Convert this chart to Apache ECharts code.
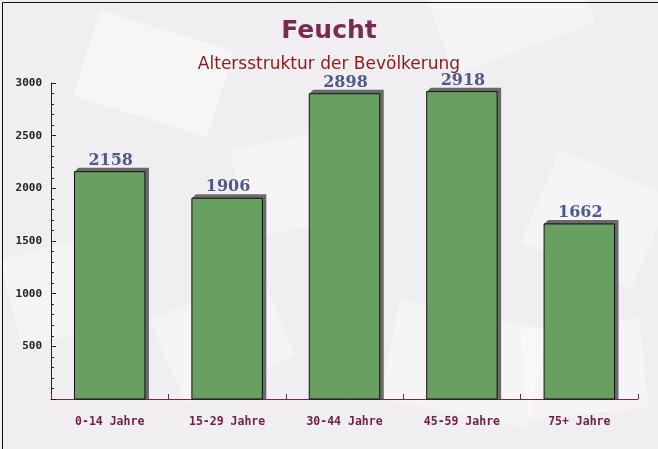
<!DOCTYPE html>
<html><head><meta charset="utf-8">
<script src="https://cdn.jsdelivr.net/npm/echarts@6/dist/echarts.min.js"></script>
<style>html,body{margin:0;padding:0;}#c{width:658px;height:449px;}</style>
</head><body><div id="c"></div>
<script>
const categories = ['0-14 Jahre','15-29 Jahre','30-44 Jahre','45-59 Jahre','75+ Jahre'];
const values = [2158, 1906, 2898, 2918, 1662];
const yTicks = [500, 1000, 1500, 2000, 2500, 3000];

const chart = echarts.init(document.getElementById('c'), null, {renderer:'canvas'});
const env = (x,y,w,h,r,o)=>({type:'rect',x:x,y:y,rotation:r,shape:{x:0,y:0,width:w,height:h},style:{fill:'rgba(255,255,255,'+o+')'},silent:true,z:-10});
const D = 4;
function renderBar(params, api){
  const i = api.value(0), v = api.value(1);
  const top = api.coord([i, v]);
  const base = api.coord([i, 0]);
  const band = api.size([1, 0])[0];
  const w = band * 0.6;
  const x0 = top[0] - w/2, x1 = top[0] + w/2, yT = top[1], yB = base[1];
  return {type:'group', children:[
    {type:'polygon', shape:{points:[[x0,yT],[x0+D,yT-D],[x1+D,yT-D],[x1+D,yB],[x1,yB]]}, style:{fill:'#6a6a6a'}},
    {type:'rect', shape:{x:x0,y:yT,width:w,height:yB-yT}, style:{fill:'#67a061',stroke:'#111',lineWidth:1}},
    {type:'text', x:(x0+x1)/2+1, y:yT-D+1, style:{text:String(v), align:'center', verticalAlign:'bottom',
      font:'bold 16px "DejaVu Serif"', fill:'#4f5a8a'}}
  ]};
}
chart.setOption({
  backgroundColor:'#f1eef1',
  animation:false,
  title:[
    {text:'Feucht',left:'center',top:14,textStyle:{fontFamily:'DejaVu Sans',fontWeight:'bold',fontSize:25,color:'#7a2b52'}},
    {text:'Altersstruktur der Bevölkerung',left:'center',top:51,textStyle:{fontFamily:'DejaVu Sans',fontWeight:'normal',fontSize:17,color:'#8b1a1a'}}
  ],
  graphic:[
    env(100,10,140,90,-0.3,0.45), env(420,-20,150,100,0.35,0.4), env(230,150,130,90,0.2,0.35),
    env(560,150,120,100,-0.4,0.4), env(0,260,110,90,0.25,0.35), env(400,300,150,100,-0.2,0.4),
    env(150,320,120,90,0.4,0.35), env(520,330,120,90,0.1,0.35),
    {type:'rect',left:0,top:0,shape:{width:657,height:448},style:{fill:'none',stroke:'#111',lineWidth:1},silent:true,z:100}
  ],
  grid:{left:51,right:20,top:83,bottom:50},
  xAxis:{type:'category',data:categories,
    axisLine:{lineStyle:{color:'#6e2a4c',width:1}},
    axisTick:{show:true,inside:true,length:5,lineStyle:{color:'#6e2a4c'}},
    axisLabel:{fontFamily:'DejaVu Sans Mono',fontWeight:'bold',fontSize:11.5,color:'#6e2346',margin:17}},
  yAxis:{type:'value',min:0,max:3000,interval:500,
    axisLine:{show:true,lineStyle:{color:'#222',width:1}},
    axisTick:{show:true,inside:true,length:5,lineStyle:{color:'#222'}},
    minorTick:{show:true,splitNumber:5,length:3,lineStyle:{color:'#222'}},
    splitLine:{show:false},
    axisLabel:{fontFamily:'DejaVu Sans Mono',fontWeight:'bold',fontSize:11,color:'#222',margin:9,
      formatter:v=>yTicks.includes(v)?String(v):''}},
  series:[{type:'custom',renderItem:renderBar,encode:{x:0,y:1},
    data:values.map((v,i)=>[i,v])}]
});
</script></body></html>
